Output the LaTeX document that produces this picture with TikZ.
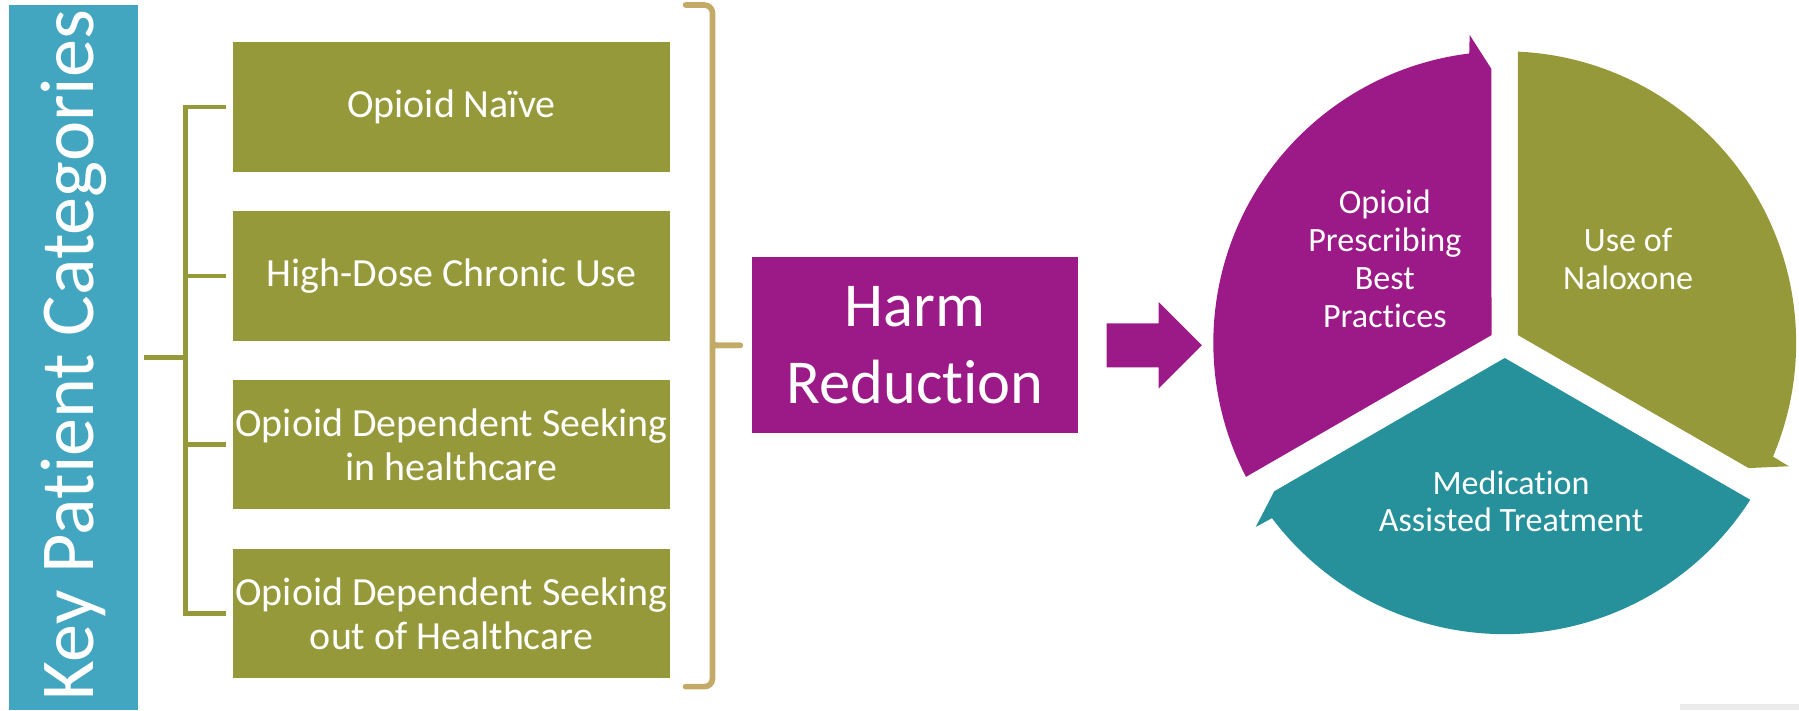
\documentclass[tikz,border=0pt]{standalone}
\usepackage{fontspec}
\setmainfont{Carlito}[Ligatures=NoCommon]
\usetikzlibrary{positioning,shapes.arrows}

\definecolor{barteal}{HTML}{42A6C0}
\definecolor{catolive}{HTML}{95993A}
\definecolor{harmpurple}{HTML}{9C1A87}
\definecolor{bracetan}{HTML}{C4AA67}
\definecolor{matteal}{HTML}{26919A}

\begin{document}
\begin{tikzpicture}[
    catbox/.style={fill=catolive, text=white, minimum width=3.81cm, minimum height=1.127cm, inner sep=0pt, align=center, font=\fontsize{9.9}{10.8}\selectfont},
    harmbox/.style={fill=harmpurple, text=white, minimum width=2.833cm, minimum height=1.531cm, inner sep=0pt, align=center, font=\fontsize{15.5}{19}\selectfont},
    wheeltext/.style={text=white, align=center, inner sep=0pt, font=\fontsize{8.45}{9.36}\selectfont},
    tree/.style={draw=catolive, line width=1.15pt},
    bracket/.style={draw=bracetan, line width=1.4pt, line cap=round, line join=round, rounded corners=0.07cm},
    blockarrow/.style={single arrow, fill=harmpurple, minimum height=0.83cm, inner xsep=0pt, inner ysep=0.185cm, single arrow head extend=0.185cm}
]
\useasboundingbox (0,0) rectangle (15.68,6.19);

% Side bar (left)
\node[fill=barteal, minimum width=1.128cm, minimum height=6.146cm, inner sep=0pt] (keybar) at (0.642,3.073) {};
\node[text=white, rotate=90, inner sep=0pt, font=\fontsize{18.9}{23}\selectfont] (keytitle) at ([yshift=0.02cm]keybar.center) {Key Patient Categories};

% Patient categories
\node[catbox] (naive) at (3.935,5.257) {Opioid Naïve};
\node[catbox] (chronic) at (3.935,3.785) {High-Dose Chronic Use};
\node[catbox] (seekin) at (3.935,2.314) {Opioid Dependent Seeking\\in healthcare};
\node[catbox] (seekout) at (3.935,0.842) {Opioid Dependent Seeking\\out of Healthcare};

% Tree joining the bar to the boxes
\coordinate (spine) at (1.615,3.073);
\draw[tree] ([xshift=0.045cm]keybar.east) -- (spine);
\draw[tree] ([xshift=-0.05cm]naive.west) -| (spine) |- ([xshift=-0.05cm]seekout.west);
\draw[tree] ([xshift=-0.05cm]chronic.west) -- (chronic.west -| spine);
\draw[tree] ([xshift=-0.05cm]seekin.west) -- (seekin.west -| spine);

% Brace into harm reduction
\node[harmbox] (harm) at (7.975,3.18) {Harm\\Reduction};
\coordinate (bracetip) at ([xshift=-0.1cm]harm.west);
\draw[bracket] (5.975,6.146) -- (6.21,6.146) -- (6.21,3.25) .. controls (6.21,3.19) and (6.25,3.18) .. (6.32,3.18) -- (bracetip);
\draw[bracket] (5.975,0.205) -- (6.21,0.205) -- (6.21,3.11) .. controls (6.21,3.17) and (6.25,3.18) .. (6.32,3.18) -- (bracetip);

% Block arrow to the cycle
\node[blockarrow, anchor=tail] (push) at ([xshift=0.24cm]harm.east) {};

% Cycle of three arrows
\coordinate (wheel) at (13.115,3.2025);
\begin{scope}[shift={(wheel)}]
\fill[harmpurple] (150:0.133) -- (207.4:2.54) arc[start angle=207.4, end angle=97.0, radius=2.54] -- (96.5:2.70) -- (92.8:2.39) -- cycle;
\fill[catolive] (30:0.133) -- (87.4:2.54) arc[start angle=87.4, end angle=-23.0, radius=2.54] -- (-23.5:2.70) -- (-27.2:2.39) -- cycle;
\fill[matteal] (270:0.133) -- (327.4:2.54) arc[start angle=327.4, end angle=217.0, radius=2.54] -- (216.5:2.70) -- (212.8:2.39) -- cycle;
\end{scope}

\node[wheeltext] (bestpractice) at (12.07,3.935) {Opioid\\Prescribing\\Best\\Practices};
\node[wheeltext] (naloxone) at (14.19,3.935) {Use of\\Naloxone};
\node[wheeltext] (mat) at (13.17,1.82) {Medication\\Assisted Treatment};

% Strip along the lower right edge
\fill[black!8] (14.64,0) rectangle (15.68,0.055);

\end{tikzpicture}
\end{document}
